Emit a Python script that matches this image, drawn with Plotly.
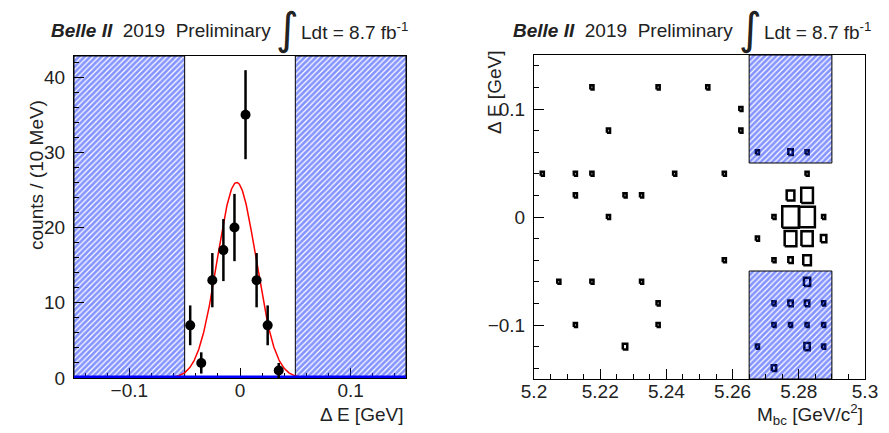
import numpy as np
import plotly.graph_objects as go

W, H = 889, 433

# ---------------- data: left panel (Delta E projection) ----------------
de_centers = [-0.045, -0.035, -0.025, -0.015, -0.005, 0.005, 0.015, 0.025, 0.035]
de_counts = [7, 2, 13, 17, 20, 35, 13, 7, 1]

# Gaussian fit parameters
FIT_AMP = 26.0
FIT_MEAN = -0.003
FIT_SIGMA = 0.0175

# ---------------- data: right panel (Mbc vs Delta E, box plot) ----------------
mbc_vals = [5.2025, 5.2175, 5.2375, 5.2525, 5.2625, 5.2225, 5.2625, 5.2125, 5.2175, 5.2425,
            5.2575, 5.2125, 5.2275, 5.2325, 5.2225, 5.2575, 5.2675, 5.2075, 5.2175, 5.2325,
            5.2375, 5.2125, 5.2375, 5.2275,
            5.2675, 5.2775, 5.2825,
            5.2825, 5.2775, 5.2825, 5.2725, 5.2775, 5.2825, 5.2875, 5.2775, 5.2825, 5.2875,
            5.2725, 5.2775, 5.2825,
            5.2825, 5.2725, 5.2775, 5.2825, 5.2875, 5.2725, 5.2775, 5.2825, 5.2875,
            5.2675, 5.2825, 5.2875, 5.2725]
de_vals = [0.04, 0.12, 0.12, 0.12, 0.10, 0.08, 0.08, 0.04, 0.04, 0.04,
           0.04, 0.02, 0.02, 0.02, 0.00, -0.04, -0.02, -0.06, -0.06, -0.06,
           -0.08, -0.10, -0.10, -0.12,
           0.06, 0.06, 0.06,
           0.04, 0.02, 0.02, 0.00, 0.00, 0.00, 0.00, -0.02, -0.02, -0.02,
           -0.04, -0.04, -0.04,
           -0.06, -0.08, -0.08, -0.08, -0.08, -0.10, -0.10, -0.10, -0.10,
           -0.12, -0.12, -0.12, -0.14]
box_counts = [1, 1, 1, 1, 1, 1, 1, 1, 1, 1,
              1, 1, 1, 1, 1, 1, 1, 1, 1, 1,
              1, 1, 1, 2,
              1, 2, 1,
              1, 6, 14, 1, 28, 25, 1, 14, 13, 3,
              1, 2, 6,
              4, 1, 2, 2, 1, 1, 1, 1, 1,
              1, 3, 1, 2]
MBC_BIN = 0.005
DE_BIN = 0.02

# region definitions
DE_SIG_LO, DE_SIG_HI = -0.05, 0.05
MBC_SIG_LO, MBC_SIG_HI = 5.265, 5.29
LEFT_XR = [-0.15, 0.15]
LEFT_YR = [0, 42.8]
RIGHT_XR = [5.2, 5.3]
RIGHT_YR = [-0.15, 0.15]

FONT = "Liberation Sans, Arial, Helvetica, sans-serif"
HATCH_BLUE = "#0a28ff"

# frame geometry (pixels)
ML, MR, MT, MB = 74, 889 - 865, 55, 433 - 379
PW, PH = W - ML - MR, H - MT - MB


def px(x):
    return (x - ML) / PW


def py(y):
    return (H - MB - y) / PH


fig = go.Figure()


def hatch_rect(x0, x1, y0, y1, xa, ya):
    fig.add_trace(go.Scatter(
        x=[x0, x1, x1, x0, x0], y=[y0, y0, y1, y1, y0],
        xaxis=xa, yaxis=ya, mode="lines", fill="toself",
        fillcolor="rgba(0,0,0,0)",
        fillpattern=dict(shape="/", fgcolor=HATCH_BLUE, bgcolor="rgba(0,0,0,0)",
                         size=4, solidity=0.7),
        line=dict(color="black", width=1), hoverinfo="skip", showlegend=False))


# ---- left panel ----
hatch_rect(LEFT_XR[0], DE_SIG_LO, LEFT_YR[0], LEFT_YR[1], "x", "y")
hatch_rect(DE_SIG_HI, LEFT_XR[1], LEFT_YR[0], LEFT_YR[1], "x", "y")

xf = np.linspace(LEFT_XR[0], LEFT_XR[1], 801)
yf = FIT_AMP * np.exp(-0.5 * ((xf - FIT_MEAN) / FIT_SIGMA) ** 2)
fig.add_trace(go.Scatter(x=xf, y=yf, mode="lines", line=dict(color="red", width=1.5),
                         xaxis="x", yaxis="y", showlegend=False, hoverinfo="skip"))
fig.add_trace(go.Scatter(x=LEFT_XR, y=[0, 0], mode="lines", line=dict(color="#0000ff", width=5),
                         xaxis="x", yaxis="y", showlegend=False, hoverinfo="skip"))
fig.add_trace(go.Scatter(
    x=de_centers, y=de_counts, mode="markers",
    marker=dict(color="black", size=10, symbol="circle"),
    error_y=dict(type="data", array=list(np.sqrt(de_counts)), color="black", thickness=2.5, width=0),
    xaxis="x", yaxis="y", showlegend=False))

# ---- right panel ----
zmax = max(box_counts)
bx, by = [], []
for m, d, z in zip(mbc_vals, de_vals, box_counts):
    s = np.sqrt(z / zmax)
    hw = MBC_BIN / 2 * s
    hh = DE_BIN / 2 * s
    bx += [m - hw, m + hw, m + hw, m - hw, m - hw, None]
    by += [d - hh, d - hh, d + hh, d + hh, d - hh, None]
fig.add_trace(go.Scatter(x=bx, y=by, mode="lines", line=dict(color="black", width=2.5),
                         xaxis="x2", yaxis="y2", showlegend=False, hoverinfo="skip"))

hatch_rect(MBC_SIG_LO, MBC_SIG_HI, 0.05, RIGHT_YR[1], "x2", "y2")
hatch_rect(MBC_SIG_LO, MBC_SIG_HI, RIGHT_YR[0], -0.05, "x2", "y2")

axis_common = dict(showgrid=False, zeroline=False, showline=True, mirror=True,
                   linecolor="black", linewidth=1, ticks="inside", ticklen=10,
                   tickcolor="black", tickwidth=1, automargin=False,
                   tickfont=dict(family=FONT, size=19, color="#222"))

fig.update_layout(
    width=W, height=H, margin=dict(l=ML, r=MR, t=MT, b=MB, autoexpand=False),
    paper_bgcolor="white", plot_bgcolor="white", showlegend=False,
    xaxis=dict(domain=[px(74), px(406)], range=LEFT_XR, dtick=0.1, tick0=0,
               minor=dict(ticks="inside", ticklen=5, dtick=0.02, tickcolor="black"),
               anchor="y", ticklabelstandoff=-5, layer="below traces", **axis_common),
    yaxis=dict(domain=[py(378), py(56)], range=LEFT_YR, dtick=10, tick0=0,
               minor=dict(ticks="inside", ticklen=5, dtick=2, tickcolor="black"),
               anchor="x", ticklabelstandoff=4, **axis_common),
    xaxis2=dict(domain=[px(534), px(865)], range=RIGHT_XR, dtick=0.02, tick0=5.2,
                minor=dict(ticks="inside", ticklen=5, dtick=0.005, tickcolor="black"),
                anchor="y2", ticklabelstandoff=-5, **axis_common),
    yaxis2=dict(domain=[py(379), py(55)], range=RIGHT_YR, dtick=0.1, tick0=0,
                minor=dict(ticks="inside", ticklen=5, dtick=0.02, tickcolor="black"),
                anchor="x2", ticklabelstandoff=4, **axis_common),
)

tfont = dict(family=FONT, size=19, color="#222")
ann = []
for (x_pre, x_int, x_post) in [(273, 287, 299), (735, 750, 762)]:
    ann.append(dict(x=px(x_pre), y=py(31), xref="paper", yref="paper", xanchor="right", yanchor="middle",
                    text="<b><i>Belle II</i></b>  2019  Preliminary", showarrow=False, font=tfont))
    ann.append(dict(x=px(x_int), y=py(28), xref="paper", yref="paper", xanchor="center", yanchor="middle",
                    text="∫", showarrow=False, font=dict(family="DejaVu Sans", size=44, color="#222")))
    ann.append(dict(x=px(x_post), y=py(31), xref="paper", yref="paper", xanchor="left", yanchor="middle",
                    text="Ldt = 8.7 fb<sup>-1</sup>", showarrow=False, font=tfont))

ann.append(dict(x=px(405), y=py(414), xref="paper", yref="paper", xanchor="right", yanchor="middle",
                text="Δ E [GeV]", showarrow=False, font=tfont))
ann.append(dict(x=px(36), y=py(175), xref="paper", yref="paper", xanchor="center", yanchor="middle",
                text="counts / (10 MeV)", textangle=-90, showarrow=False, font=tfont))
ann.append(dict(x=px(865), y=py(414), xref="paper", yref="paper", xanchor="right", yanchor="middle",
                text="M<sub>bc</sub> [GeV/c<sup>2</sup>]", showarrow=False, font=tfont))
ann.append(dict(x=px(495), y=py(93), xref="paper", yref="paper", xanchor="center", yanchor="middle",
                text="Δ E [GeV]", textangle=-90, showarrow=False, font=tfont))
fig.update_layout(annotations=ann)

fig.write_html("out.html")
